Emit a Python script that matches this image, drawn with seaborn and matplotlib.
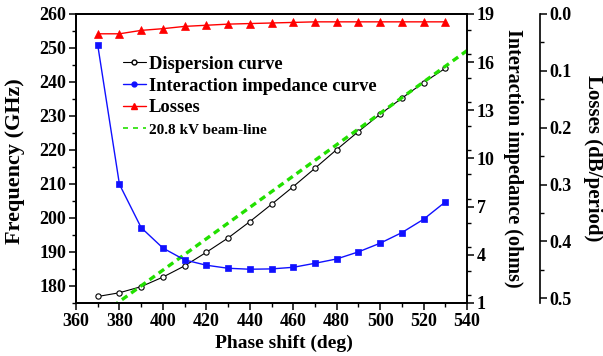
import seaborn as sns
import matplotlib.pyplot as plt
from matplotlib.ticker import MultipleLocator
from matplotlib.lines import Line2D

# -------------------------------
# Data
# -------------------------------
phase = [370, 380, 390, 400, 410, 420, 430, 440, 450, 460, 470, 480, 490, 500, 510, 520, 530]
dispersion = [176.9, 178.0, 179.8, 182.6, 185.9, 189.9, 194.1, 198.9, 204.0, 209.2,
              214.6, 220.1, 225.4, 230.5, 235.2, 239.8, 244.0]
impedance = [17.07, 8.39, 5.69, 4.42, 3.68, 3.35, 3.16, 3.10, 3.12, 3.22,
             3.47, 3.74, 4.18, 4.72, 5.38, 6.21, 7.29]
losses = [0.035, 0.035, 0.029, 0.026, 0.022, 0.020, 0.018, 0.017, 0.016, 0.015,
          0.014, 0.014, 0.014, 0.014, 0.014, 0.014, 0.014]
beam_phase = [360, 540]
beam_freq = [166.2, 249.2]

labels = ["Dispersion curve", "Interaction impedance curve", "Losses", "20.8 kV beam-line"]

# -------------------------------
# Style
# -------------------------------
sns.set_style("ticks")
plt.rcParams["font.family"] = ["Liberation Serif", "DejaVu Serif"]
plt.rcParams["font.weight"] = "bold"
plt.rcParams["axes.edgecolor"] = "black"
plt.rcParams["axes.linewidth"] = 1.2
plt.rcParams["xtick.color"] = "black"
plt.rcParams["ytick.color"] = "black"
plt.rcParams["text.color"] = "black"
plt.rcParams["axes.labelcolor"] = "black"

GREEN = "#22e000"
BLUE = "#1010ff"
RED = "#ff0000"

fig, ax = plt.subplots(figsize=(6.03, 3.56), dpi=100)
fig.subplots_adjust(left=0.126, right=0.7745, bottom=0.149, top=0.961)
ax2 = ax.twinx()
ax3 = ax.twinx()
ax3.spines["right"].set_position(("axes", 1.187))

# -------------------------------
# Curves
# -------------------------------
sns.lineplot(x=beam_phase, y=beam_freq, ax=ax, color=GREEN, lw=2.4,
             linestyle=(0, (2, 1.4)), zorder=3)
sns.lineplot(x=phase, y=dispersion, ax=ax, color="black", lw=0.8,
             marker="o", markersize=3.8, markerfacecolor="white",
             markeredgecolor="black", markeredgewidth=0.8, zorder=2)
sns.lineplot(x=phase, y=impedance, ax=ax2, color=BLUE, lw=1.0,
             marker="s", markersize=4.5, markerfacecolor=BLUE,
             markeredgecolor=BLUE, markeredgewidth=0.5)
sns.lineplot(x=phase, y=losses, ax=ax3, color=RED, lw=1.0,
             marker="^", markersize=5.5, markerfacecolor=RED,
             markeredgecolor=RED, markeredgewidth=0.5)

# -------------------------------
# Axes
# -------------------------------
ax.set_xlim(360, 540)
ax.set_xticks(range(360, 541, 20))
ax.xaxis.set_minor_locator(MultipleLocator(10))
ax.set_ylim(175, 260)
ax.set_yticks(range(180, 261, 10))
ax.yaxis.set_minor_locator(MultipleLocator(5))

ax2.set_ylim(1, 19)
ax2.set_yticks(range(1, 20, 3))
ax2.yaxis.set_minor_locator(MultipleLocator(1.5))

ax3.set_ylim(0.508, 0)
ax3.set_yticks([0.0, 0.1, 0.2, 0.3, 0.4, 0.5])
ax3.yaxis.set_minor_locator(MultipleLocator(0.05))

for a in (ax, ax2, ax3):
    a.tick_params(which="major", direction="out", length=5, width=1.1, labelsize=13, pad=2)
    a.tick_params(which="minor", direction="out", length=3, width=1.0)
    a.grid(False)

ax.set_xlabel("Phase shift (deg)", fontsize=14, fontweight="bold")
ax.xaxis.set_label_coords(0.532, -0.138)
ax.xaxis.label.set_va("center")

ax.set_ylabel("Frequency (GHz)", fontsize=16, fontweight="bold")
ax.yaxis.set_label_coords(-0.156, 0.49)
ax.yaxis.label.set_va("center")

ax2.set_ylabel("Interaction impedance (ohms)", fontsize=14.5, fontweight="bold", rotation=270)
ax2.yaxis.set_label_coords(1.118, 0.5)
ax2.yaxis.label.set_va("center")

ax3.set_ylabel("Losses (dB/period)", fontsize=15, fontweight="bold", rotation=270)
ax3.yaxis.set_label_coords(1.322, 0.5)
ax3.yaxis.label.set_va("center")

# -------------------------------
# Legend
# -------------------------------
handles = [
    Line2D([], [], color="black", lw=0.8, marker="o", ms=3.5, mfc="white", mec="black"),
    Line2D([], [], color=BLUE, lw=1.0, marker="o", ms=3.5, mfc=BLUE, mec=BLUE),
    Line2D([], [], color=RED, lw=1.0, marker="^", ms=5, mfc=RED, mec=RED),
    Line2D([], [], color=GREEN, lw=1.2, linestyle=(0, (3, 3))),
]
leg = ax3.legend(handles, labels, loc="upper left", bbox_to_anchor=(0.12, 0.855),
                 frameon=False, prop={"size": 13.3, "weight": "bold"},
                 handlelength=1.25, handletextpad=0.15, labelspacing=0.26,
                 borderpad=0, borderaxespad=0)
leg.get_texts()[3].set_fontsize(11)

plt.savefig("out.png", dpi=100)
plt.close()
